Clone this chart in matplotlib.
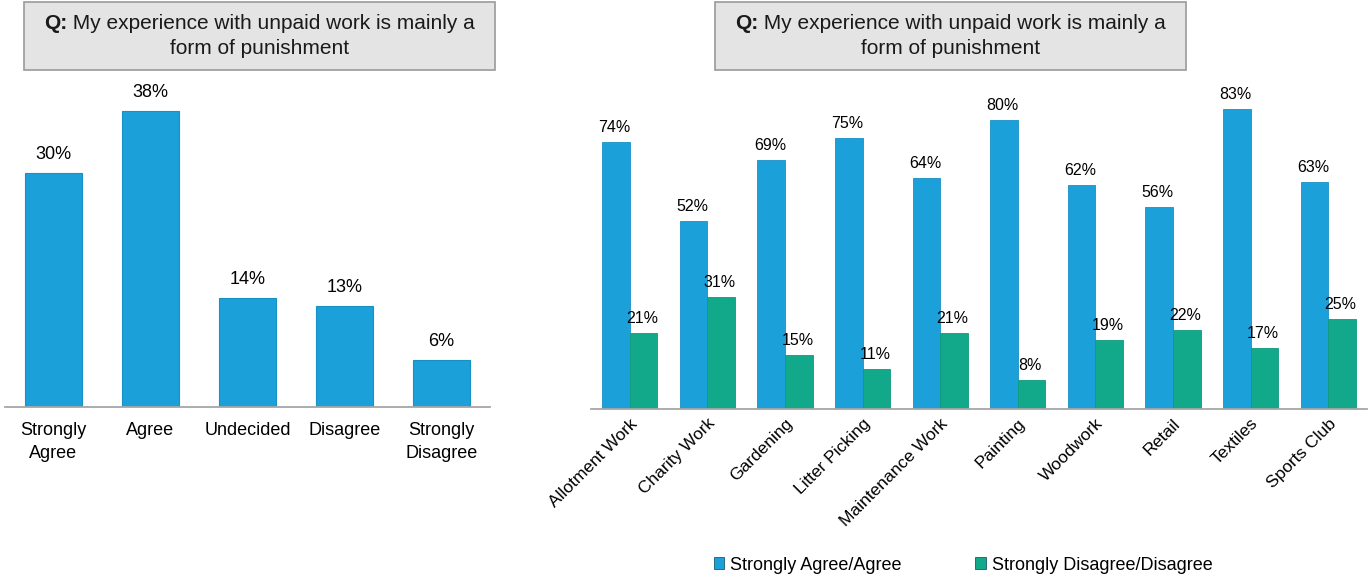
import numpy as np
import matplotlib.pyplot as plt
from matplotlib.patches import Rectangle
from matplotlib.offsetbox import TextArea, HPacker, VPacker, AnnotationBbox

plt.rcParams['font.family'] = ['Liberation Sans', 'DejaVu Sans']

# overall responses
responses = ['Strongly\nAgree', 'Agree', 'Undecided', 'Disagree', 'Strongly\nDisagree']
response_pct = [30, 38, 14, 13, 6]

# responses split by type of unpaid work
work_types = ['Allotment Work', 'Charity Work', 'Gardening', 'Litter Picking',
              'Maintenance Work', 'Painting', 'Woodwork', 'Retail', 'Textiles',
              'Sports Club']
agree_pct = [74, 52, 69, 75, 64, 80, 62, 56, 83, 63]
disagree_pct = [21, 31, 15, 11, 21, 8, 19, 22, 17, 25]
series_names = ['Strongly Agree/Agree', 'Strongly Disagree/Disagree']

q_prefix = 'Q:'
q_line1 = ' My experience with unpaid work is mainly a'
q_line2 = 'form of punishment'

BLUE = '#1ba0da'
GREEN = '#12a98b'
AXIS_GREY = '#a6a6a6'

W, H = 1370, 577
fig = plt.figure(figsize=(W / 100, H / 100), dpi=100)


def px_axes(x0, x1, y_base, height):
    # axes placed by pixel coordinates (y measured from the top)
    return fig.add_axes([x0 / W, (H - y_base) / H, (x1 - x0) / W, height / H])


def question_box(x0, x1, y0, y1):
    fig.patches.append(Rectangle((x0 / W, 1 - y1 / H), (x1 - x0) / W, (y1 - y0) / H,
                                 transform=fig.transFigure, facecolor='#e4e4e4',
                                 edgecolor='#9a9a9a', linewidth=1.2))
    tp = dict(fontsize=15, color='#1a1a1a')
    first = HPacker(children=[TextArea(q_prefix, textprops=dict(fontweight='bold', **tp)),
                              TextArea(q_line1, textprops=tp)],
                    align='baseline', pad=0, sep=0)
    block = VPacker(children=[first, TextArea(q_line2, textprops=tp)],
                    align='center', pad=0, sep=5)
    ab = AnnotationBbox(block, ((x0 + x1) / 2 / W, 1 - (y0 + y1) / 2 / H),
                        xycoords='figure fraction', frameon=False, box_alignment=(0.5, 0.5))
    fig.add_artist(ab)


def tidy(ax):
    for s in ['top', 'right', 'left']:
        ax.spines[s].set_visible(False)
    ax.spines['bottom'].set_color(AXIS_GREY)
    ax.spines['bottom'].set_linewidth(1.3)
    ax.set_yticks([])
    ax.tick_params(axis='x', length=0)


# left: overall distribution
ax1 = px_axes(5, 490, 407, 45 * 7.8)
x1 = np.arange(len(responses))
bars = ax1.bar(x1, response_pct, width=0.58, color=BLUE, edgecolor='#1790c6', linewidth=0.8)
for b, v in zip(bars, response_pct):
    ax1.annotate(f'{v}%', (b.get_x() + b.get_width() / 2, v), xytext=(0, 7),
                 textcoords='offset points', ha='center', va='bottom', fontsize=13)
ax1.set_xlim(-0.5, len(responses) - 0.5)
ax1.set_ylim(0, 45)
ax1.set_xticks(x1)
ax1.set_xticklabels(responses, fontsize=13, linespacing=1.45)
ax1.tick_params(axis='x', pad=11)
tidy(ax1)
question_box(24, 495, 2, 70)

# right: agreement by type of unpaid work
ax2 = px_axes(591, 1367, 409, 90 * 3.61)
x2 = np.arange(len(work_types))
bw = 0.355
b_agree = ax2.bar(x2 - bw / 2, agree_pct, width=bw, color=BLUE, edgecolor='#1790c6',
                  linewidth=0.6, label=series_names[0])
b_dis = ax2.bar(x2 + bw / 2, disagree_pct, width=bw, color=GREEN, edgecolor='#0f9a7e',
                linewidth=0.6, label=series_names[1])
for group in (b_agree, b_dis):
    for b in group:
        v = b.get_height()
        ax2.annotate(f'{v:.0f}%', (b.get_x() + b.get_width() / 2, v), xytext=(-1, 5),
                     textcoords='offset points', ha='center', va='bottom', fontsize=11.5)
ax2.set_xlim(-0.5, len(work_types) - 0.5)
ax2.set_ylim(0, 90)
ax2.set_xticks(x2)
ax2.set_xticklabels(work_types, rotation=45, ha='right', rotation_mode='anchor',
                    fontsize=12.5)
ax2.tick_params(axis='x', pad=5)
tidy(ax2)
question_box(715, 1186, 2, 70)

leg = fig.legend(handles=[b_agree, b_dis], labels=series_names, loc='center',
                 bbox_to_anchor=(963 / W, 1 - 565 / H), ncol=2, frameon=False,
                 fontsize=13, handlelength=0.6, handleheight=0.6, handletextpad=0.3,
                 columnspacing=4.1)
for h in leg.legend_handles:
    h.set_edgecolor('#1d5a6a')

fig.savefig('out.png', dpi=100)
